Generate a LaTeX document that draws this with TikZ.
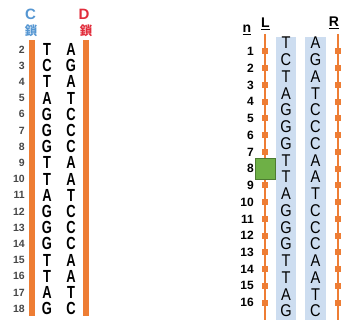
\documentclass[tikz,border=0pt]{standalone}
\usepackage{fontspec}
\setmainfont{Liberation Sans}
\newfontfamily\cjk{Noto Sans CJK JP}
\newfontfamily\condbold[FakeStretch=0.74]{Liberation Sans Bold}
\newfontfamily\condreg[FakeStretch=0.86]{Liberation Sans}
\usepackage{xcolor}
\definecolor{strandorange}{RGB}{238,125,52}
\definecolor{cblue}{RGB}{85,150,210}
\definecolor{dred}{RGB}{225,45,60}
\definecolor{colblue}{RGB}{205,221,240}
\definecolor{markgreen}{RGB}{110,176,70}
\definecolor{numgray}{RGB}{70,70,70}

\begin{document}
\begin{tikzpicture}[x=1pt,y=-1pt,
  basebold/.style={inner sep=0pt, font=\condbold\fontsize{17.5}{17.5}\selectfont},
  base/.style={inner sep=0pt, font=\condreg\fontsize{17}{17}\selectfont},
  cnum/.style={anchor=east, inner sep=0pt, text=numgray, font=\bfseries\fontsize{10.5}{10.5}\selectfont},
  nnum/.style={anchor=east, inner sep=0pt, font=\bfseries\fontsize{12}{12}\selectfont},
  lab/.style={inner sep=0pt, font=\bfseries\fontsize{14}{14}\selectfont},
  kanji/.style={inner sep=0pt, font=\cjk\bfseries\fontsize{12.5}{12.5}\selectfont},
  bar/.style={fill=strandorange, draw=none},
  strand/.style={strandorange, line width=2.2pt},
  tick/.style={fill=strandorange, inner sep=0pt, minimum width=5.5pt, minimum height=6pt},
  column/.style={fill=colblue, draw=none}]
\useasboundingbox (0,0) rectangle (341,320);
%%%%%%%%%%%%%%%%%%%%%%%%%%%%%%%%%%%%%%%%%%%%%%%%%%
% C and D strands
%%%%%%%%%%%%%%%%%%%%%%%%%%%%%%%%%%%%%%%%%%%%%%%%%%
\begin{scope}
  \node[lab, text=cblue, font=\bfseries\fontsize{15}{15}\selectfont] (clab) at (30.5,14) {C};
  \node[kanji, text=cblue] (ckan) at (31,30.5) {鎖};
  \node[lab, text=dred, font=\bfseries\fontsize{15}{15}\selectfont] (dlab) at (84,14) {D};
  \node[kanji, text=dred] (dkan) at (86,30.5) {鎖};

  \fill[bar] (29,40) rectangle (35,316);
  \fill[bar] (83,40) rectangle (88.5,316);

  \foreach \b [count=\i from 2] in {T,C,T,A,G,G,G,T,T,A,G,G,G,T,T,A,G}
    \node[basebold] (cbase\i) at (47,{49.5+16.2*(\i-2)}) {\b};
  \foreach \b [count=\i from 2] in {A,G,A,T,C,C,C,A,A,T,C,C,C,A,A,T,C}
    \node[basebold] (dbase\i) at (71,{49.5+16.2*(\i-2)}) {\b};
  \foreach \i in {2,...,18}
    \node[cnum] (cnum\i) at (25,{49.5+16.2*(\i-2)}) {\i};
\end{scope}
%%%%%%%%%%%%%%%%%%%%%%%%%%%%%%%%%%%%%%%%%%%%%%%%%%
% L and R
%%%%%%%%%%%%%%%%%%%%%%%%%%%%%%%%%%%%%%%%%%%%%%%%%%
\begin{scope}
  \fill[column] (276,37) rectangle (296,320);
  \fill[column] (305,37) rectangle (326,320);

  \node[lab, anchor=base] (nlab) at (247,33) {\underline{n}};
  \node[lab, anchor=base] (llab) at (265.5,28) {\underline{L}};
  \node[lab, anchor=base] (rlab) at (334,27) {\underline{R}};

  \coordinate (ltop) at (265,34);
  \coordinate (lbot) at (265,320);
  \coordinate (rtop) at (338,34);
  \coordinate (rbot) at (338,320);
  \draw[strand] (ltop) -- (lbot);
  \draw[strand] (rtop) -- (rbot);

  \foreach \b [count=\i] in {T,C,T,A,G,G,G,T,T,A,G,G,G,T,T,A,G}
    \node[base] (lbase\i) at (286,{43+16.75*(\i-1)}) {\b};
  \foreach \b [count=\i] in {A,G,A,T,C,C,C,A,A,T,C,C,C,A,A,T,C}
    \node[base] (rbase\i) at (315.5,{43+16.75*(\i-1)}) {\b};

  \foreach \i in {1,...,16} {
    \node[tick] (ltick\i) at (265,{51.4+16.75*(\i-1)}) {};
    \node[tick] (rtick\i) at (338,{51.4+16.75*(\i-1)}) {};
    \node[nnum] (nnum\i) at (254,{51.4+16.75*(\i-1)}) {\i};
  }

  \node[draw=markgreen!70!black, fill=markgreen, inner sep=0pt,
        minimum width=20pt, minimum height=21pt] (mark) at (265,168.5) {};
\end{scope}
\end{tikzpicture}
\end{document}
